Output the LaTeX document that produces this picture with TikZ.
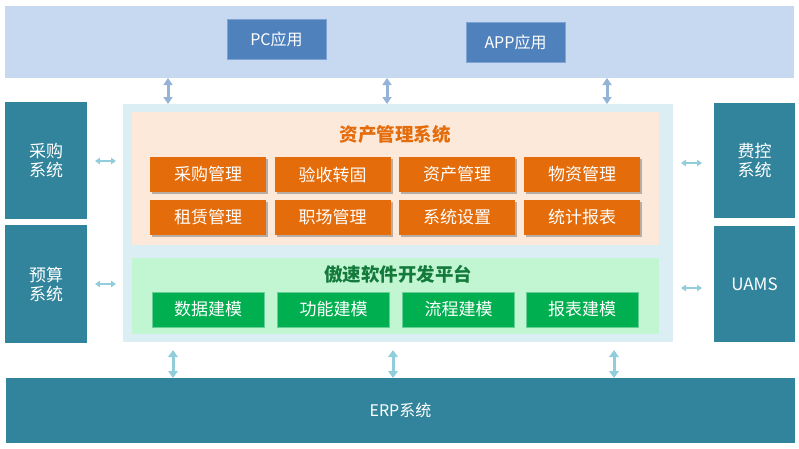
\documentclass[tikz,border=0pt]{standalone}
\usepackage{fontspec}
\setmainfont{Noto Sans CJK SC}
\usetikzlibrary{shadows,arrows.meta}
\definecolor{bandblue}{HTML}{C6D9F0}
\definecolor{appblue}{HTML}{4F81BD}
\definecolor{appedge}{HTML}{7FA3D3}
\definecolor{teal}{HTML}{31849B}
\definecolor{mainbg}{HTML}{DAEEF3}
\definecolor{peach}{HTML}{FDE9D9}
\definecolor{orangebox}{HTML}{E46C0A}
\definecolor{greenbg}{HTML}{C2F6D3}
\definecolor{greenbox}{HTML}{00B050}
\definecolor{greentitle}{HTML}{137A3C}
\definecolor{arrblue}{HTML}{95B3D7}
\definecolor{arrcyan}{HTML}{92CDDC}
\begin{document}
\begin{tikzpicture}[x=1pt,y=-1pt,
  every node/.style={inner sep=0pt,outer sep=0pt},
  panel/.style={fill=#1,draw=none},
  appbox/.style={fill=appblue,draw=appedge,line width=0.6pt,minimum width=99pt,minimum height=40pt,text=white,font=\fontsize{16}{18}\selectfont},
  sysbox/.style={fill=teal,draw=none,text=white,font=\fontsize{17}{19}\selectfont,align=center},
  obox/.style={fill=orangebox,draw=none,minimum width=116pt,minimum height=35pt,text=white,font=\fontsize{17}{19}\selectfont,
    drop shadow={shadow xshift=2pt,shadow yshift=-2pt,opacity=0.45,fill=black!60}},
  gbox/.style={fill=greenbox,draw=greenbox!60!white,line width=0.5pt,minimum width=112pt,minimum height=35pt,text=white,font=\fontsize{17}{19}\selectfont},
  vtitle/.style={font=\fontsize{18.5}{20}\selectfont\bfseries},
  bigarr/.style={draw=arrblue,line width=3pt,{Triangle[width=9pt,length=7pt]}-{Triangle[width=9pt,length=7pt]}},
  botarr/.style={draw=arrcyan,line width=3pt,{Triangle[width=9.5pt,length=7pt]}-{Triangle[width=9.5pt,length=7pt]}},
  sidearr/.style={draw=arrcyan,line width=2pt,{Triangle[width=6.5pt,length=5pt]}-{Triangle[width=6.5pt,length=5pt]}}
]
\useasboundingbox (0,0) rectangle (799,448);
% top band
\node[panel=bandblue,minimum width=789pt,minimum height=72pt] (top) at (399.5,42) {};
\node[appbox] (pc) at (276.5,39) {PC应用};
\node[appbox] (app) at (515.5,42) {APP应用};
% main container
\node[panel=mainbg,minimum width=550pt,minimum height=238pt] (main) at (398,223) {};
\node[panel=peach,minimum width=527pt,minimum height=133pt] (asset) at (395.5,178.5) {};
\node[vtitle,text=orangebox] (t1) at (395,134) {资产管理系统};
\node[obox] (o1) at (208,174.5) {采购管理};
\node[obox] (o2) at (332.5,174.5) {验收转固};
\node[obox] (o3) at (457,174.5) {资产管理};
\node[obox] (o4) at (582,174.5) {物资管理};
\node[obox] (o5) at (208,217.5) {租赁管理};
\node[obox] (o6) at (332.5,217.5) {职场管理};
\node[obox] (o7) at (457,217.5) {系统设置};
\node[obox] (o8) at (582,217.5) {统计报表};
\node[panel=greenbg,minimum width=527pt,minimum height=76pt] (plat) at (395.5,296) {};
\node[vtitle,text=greentitle] (t2) at (398,274) {傲速软件开发平台};
\node[gbox] (g1) at (208,309.5) {数据建模};
\node[gbox] (g2) at (333.5,309.5) {功能建模};
\node[gbox] (g3) at (458.5,309.5) {流程建模};
\node[gbox] (g4) at (582,309.5) {报表建模};
% side systems
\node[sysbox,minimum width=82pt,minimum height=117pt] (l1) at (46,160.5) {采购\\系统};
\node[sysbox,minimum width=82pt,minimum height=118pt] (l2) at (46,284) {预算\\系统};
\node[sysbox,minimum width=81pt,minimum height=115pt] (r1) at (754.5,160.5) {费控\\系统};
\node[sysbox,minimum width=81pt,minimum height=116pt] (r2) at (754.5,284) {UAMS};
% ERP
\node[sysbox,font=\fontsize{16}{18}\selectfont,minimum width=789pt,minimum height=65pt] (erp) at (400.5,410.5) {ERP系统};
% arrows
\coordinate (a1) at (168,0);
\coordinate (a2) at (387,0);
\coordinate (a3) at (607,0);
\draw[bigarr] (top.south -| a1) -- (main.north -| a1);
\draw[bigarr] (top.south -| a2) -- (main.north -| a2);
\draw[bigarr] (top.south -| a3) -- (main.north -| a3);
\coordinate (b1) at (173,0);
\coordinate (b2) at (393,0);
\coordinate (b3) at (614,0);
\draw[botarr,shorten <=8pt] (main.south -| b1) -- (erp.north -| b1);
\draw[botarr,shorten <=8pt] (main.south -| b2) -- (erp.north -| b2);
\draw[botarr,shorten <=8pt] (main.south -| b3) -- (erp.north -| b3);
\coordinate (h1) at (0,161);
\coordinate (h2) at (0,284);
\coordinate (h3) at (0,163);
\coordinate (h4) at (0,288);
\draw[sidearr,shorten <=8pt,shorten >=7pt] (l1.east |- h1) -- (main.west |- h1);
\draw[sidearr,shorten <=8pt,shorten >=7pt] (l2.east |- h2) -- (main.west |- h2);
\draw[sidearr,shorten <=8pt,shorten >=12pt] (main.east |- h3) -- (r1.west |- h3);
\draw[sidearr,shorten <=8pt,shorten >=12pt] (main.east |- h4) -- (r2.west |- h4);
\end{tikzpicture}
\end{document}
